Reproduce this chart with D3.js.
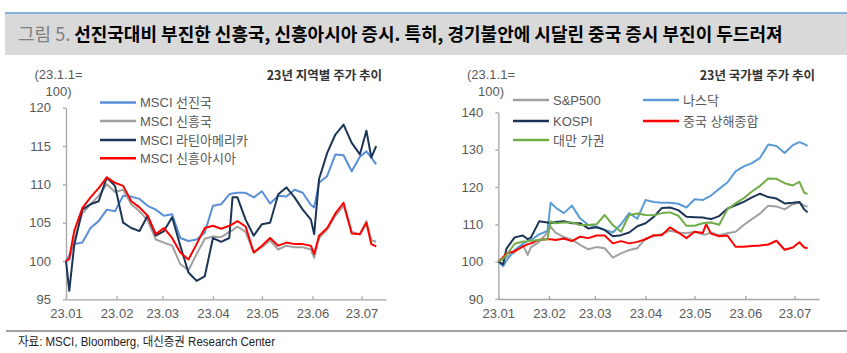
<!DOCTYPE html>
<html>
<head>
<meta charset="utf-8">
<script src="https://cdn.jsdelivr.net/npm/d3@7"></script>
<style>
  body { margin: 0; background: #fff; }
  svg text { font-family: 'Liberation Sans', 'Noto Sans CJK KR', sans-serif; }
</style>
</head>
<body>
<svg></svg>
<script>
// left panel: MSCI regions
const leftDates = ['2023-01-01','2023-01-03','2023-01-06','2023-01-11','2023-01-16','2023-01-21','2023-01-26','2023-01-31',
	'2023-02-05','2023-02-10','2023-02-15','2023-02-20','2023-02-25','2023-03-02','2023-03-07','2023-03-12','2023-03-17',
	'2023-03-22','2023-03-27','2023-04-01','2023-04-06','2023-04-11','2023-04-13','2023-04-16','2023-04-21','2023-04-26',
	'2023-05-01','2023-05-06','2023-05-11','2023-05-16','2023-05-21','2023-05-26','2023-05-31','2023-06-02','2023-06-05',
	'2023-06-10','2023-06-15','2023-06-20','2023-06-25','2023-06-30','2023-07-04','2023-07-07','2023-07-10'];
const msciDeveloped = [100,100.7,102.2,102.4,104.3,105.2,106.7,106.5,108.5,108.4,108.1,107.2,106.7,105.9,106.1,103,102.6,
	102.8,103.7,107.2,107.4,108.7,108.8,108.9,108.9,108.3,109.1,107.5,108.5,108.4,109.3,108.9,107.3,107,110.2,111.1,113.9,
	113.8,111.7,113.6,114.3,113.5,112.6];
const msciEmerging = [100,100.2,102.8,106.2,107.4,108.5,110,109,109.3,107.4,106.5,105.3,102.8,102.4,102,99.6,98.8,100.9,
	102.9,103.2,103.1,103.8,104,104.5,103.8,101.1,101.8,102.7,101.5,102,101.8,101.8,101.5,100.4,103,104.1,105.9,107.2,103.8,
	103.5,105.2,102.7,102.5];
const msciLatam = [100,96.1,102,106.7,107.4,107.8,110.9,109.8,105,104.3,103.9,105.9,103.3,103.9,105.7,102,98.5,97.4,98,103,
	102.5,103,108.3,108.3,105.4,103.3,104.8,105,108.7,109.6,108.3,106.7,105.4,103.5,110.7,114.1,116.5,117.8,115.4,113.9,117,
	113.5,115];
const msciEmAsia = [100,100.3,103.9,106.9,108.3,109.5,110.9,110.2,109.8,107.8,107,105.9,103.5,104.3,103,101.1,100.2,102.2,
	104.3,104.6,104.2,104.6,104.8,105.2,104.5,101.1,102,103,102,102.4,102.2,102.2,102,100.9,103.3,104.3,106.2,107.6,103.6,
	103.5,105,102.2,101.9];
const leftTicks = [95, 100, 105, 110, 115, 120];

// right panel: country indices
const rightDates = ['2023-01-01','2023-01-04','2023-01-06','2023-01-11','2023-01-16','2023-01-19','2023-01-21','2023-01-26',
	'2023-01-31','2023-02-02','2023-02-05','2023-02-10','2023-02-15','2023-02-20','2023-02-25','2023-03-02','2023-03-07',
	'2023-03-12','2023-03-17','2023-03-22','2023-03-27','2023-04-01','2023-04-06','2023-04-11','2023-04-16','2023-04-21',
	'2023-04-26','2023-05-01','2023-05-06','2023-05-08','2023-05-11','2023-05-16','2023-05-21','2023-05-26','2023-05-31',
	'2023-06-05','2023-06-10','2023-06-15','2023-06-20','2023-06-25','2023-06-30','2023-07-04','2023-07-07','2023-07-09'];
const sp500 = [100,100.6,101.3,102.5,104.5,101.8,103.9,105.3,107.8,109.4,107.8,106.6,105.9,104.5,103.3,103.9,103.6,101.1,
	102.2,103.1,103.6,106.2,106.8,107.4,108.3,107.8,107.6,108,107.3,107.3,107.8,107.1,107.6,108,109.8,111.4,112.9,115,114.8,
	114,115.4,115.8,115,114.7];
const nasdaq = [100,98.8,100.3,103.1,104.8,105.5,105.8,107.3,108.2,115.8,114.5,113,115,111.6,109.8,109.4,108.5,107.8,110,113,
	111.5,116.5,116,115.8,115.8,115.5,114.5,116.7,116.5,117,117.7,119.5,121.2,124.2,125.5,126.4,127.8,131.4,131,129.1,131.2,
	132,131.5,131];
const kospi = [100,99.3,103.5,106.5,107,106,106.5,110.8,110.5,110.3,110.6,110.8,110.3,110.3,108.9,109.2,108.5,106.8,107.1,
	107.8,109.5,110.3,112,114.4,114.5,113.8,112,111.9,111.8,111.6,111.4,112.2,114.2,115.1,116,117.2,118.2,117.3,116.9,115.6,
	115.8,116,114,113.2];
const shanghai = [100,101.2,102.2,102.8,104,104.7,104.9,105.9,106,106,105.8,106.2,105.5,106.7,106.3,107,107,104.9,105.5,
	104.9,105.3,106,107.1,107.1,109.2,107.8,106.3,108,107.7,110,107.5,106.8,107,104,104,104.2,104.3,104.6,105.6,103.2,103.8,
	105.2,103.8,103.6];
const taiwan = [100,100.8,101.8,104.8,105.4,105.5,105.6,105.8,106,110.8,110.3,110.5,110.5,109.8,109.8,110,112.5,109.8,108,
	112.5,112.9,112.5,112.4,113,113.2,112.3,109.6,109.6,110.3,110.4,110.5,109.9,114,115.6,117,118.8,120.3,122.3,122.2,121,
	120.4,121.4,118.4,118.2];
const rightTicks = [90, 100, 110, 120, 130, 140];

const monthTicks = ['2023-01-01','2023-02-01','2023-03-01','2023-04-01','2023-05-01','2023-06-01','2023-07-01'];

const svg = d3.select('svg')
	.attr('width', 847)
	.attr('height', 353);

const parse = d3.timeParse('%Y-%m-%d');

// header bar
svg.append('rect')
	.attr('x', 5).attr('y', 13.5)
	.attr('width', 842).attr('height', 41.5)
	.attr('fill', '#d9d9d9');
svg.append('line')
	.attr('x1', 5).attr('x2', 847)
	.attr('y1', 13).attr('y2', 13)
	.attr('stroke', '#5b9bd5')
	.attr('stroke-width', 1.5);

const title = svg.append('text')
	.attr('x', 18).attr('y', 41)
	.style('font-family', "'Noto Sans CJK KR', sans-serif")
	.style('font-size', '18px');
title.append('tspan')
	.attr('fill', '#7f7f7f')
	.text('그림 5. ');
title.append('tspan')
	.attr('fill', '#000')
	.attr('font-weight', 'bold')
	.text('선진국대비 부진한 신흥국, 신흥아시아 증시. 특히, 경기불안에 시달린 중국 증시 부진이 두드러져');

// footer
svg.append('line')
	.attr('x1', 6).attr('x2', 847)
	.attr('y1', 331).attr('y2', 331)
	.attr('stroke', '#808080')
	.attr('stroke-width', 1.5);
svg.append('text')
	.attr('x', 18).attr('y', 346)
	.attr('fill', '#222')
	.attr('textLength', 257)
	.attr('lengthAdjust', 'spacingAndGlyphs')
	.style('font-size', '12.5px')
	.text('자료: MSCI, Bloomberg, 대신증권 Research Center');

const drawPanel = opt => {
	const xScale = d3.scaleTime()
		.domain([parse('2023-01-01'), parse('2023-07-16')])
		.range([opt.left, opt.right]);

	const yScale = d3.scaleLinear()
		.domain(d3.extent(opt.ticks))
		.range([opt.bottom, opt.top]);

	const yAxis = d3.axisLeft(yScale)
		.tickValues(opt.ticks)
		.tickSizeInner(3)
		.tickSizeOuter(0)
		.tickPadding(12);

	const xAxis = d3.axisBottom(xScale)
		.tickValues(monthTicks.map(parse))
		.tickFormat(d3.timeFormat('%y.%m'))
		.tickSizeInner(-3)
		.tickSizeOuter(0)
		.tickPadding(9.5);

	const g = svg.append('g');

	const yAxisG = g.append('g')
		.attr('transform', `translate(${opt.left}, 0)`)
		.call(yAxis);
	const xAxisG = g.append('g')
		.attr('transform', `translate(0, ${opt.bottom})`)
		.call(xAxis);

	[yAxisG, xAxisG].forEach(a => {
		a.selectAll('.domain, line').attr('stroke', '#a6a6a6').attr('stroke-width', 1.3);
		a.selectAll('text')
			.attr('fill', '#595959')
			.style('font-size', '13px');
	});

	// unit label
	g.append('text')
		.attr('x', opt.unitX).attr('y', 79)
		.attr('text-anchor', 'middle')
		.attr('fill', '#595959')
		.style('font-size', '13px')
		.text('(23.1.1=');
	g.append('text')
		.attr('x', opt.unitX).attr('y', 96)
		.attr('text-anchor', 'middle')
		.attr('fill', '#595959')
		.style('font-size', '13px')
		.text('100)');

	g.append('text')
		.attr('x', opt.titleX).attr('y', 80)
		.attr('text-anchor', 'end')
		.attr('fill', '#333')
		.attr('font-weight', 'bold')
		.style('font-size', '12.5px')
		.style('font-family', "'Noto Sans CJK KR', sans-serif")
		.text(opt.title);

	const dates = opt.dates.map(parse);
	const lineGenerator = d3.line()
		.x((d, i) => xScale(dates[i]))
		.y(d => yScale(d));

	opt.series.forEach(s => {
		g.append('path')
			.attr('fill', 'none')
			.attr('stroke', s.color)
			.attr('stroke-width', 2)
			.attr('stroke-linejoin', 'round')
			.attr('d', lineGenerator(s.values));
	});

	// legend
	opt.series.forEach(s => {
		const lg = g.append('g')
			.attr('transform', `translate(${s.lx}, ${s.ly})`);
		lg.append('line')
			.attr('x1', 0).attr('x2', 36)
			.attr('stroke', s.color)
			.attr('stroke-width', 2.5);
		lg.append('text')
			.attr('x', 40).attr('y', 4.5)
			.attr('fill', '#595959')
			.style('font-size', '13px')
			.text(s.name);
	});
};

drawPanel({
	left: 66, right: 386, top: 107.7, bottom: 299.3,
	ticks: leftTicks,
	dates: leftDates,
	unitX: 58.5,
	titleX: 382,
	title: '23년 지역별 주가 추이',
	series: [
		{ name: 'MSCI 선진국', values: msciDeveloped, color: '#5a8fd8', lx: 100, ly: 102.5 },
		{ name: 'MSCI 신흥국', values: msciEmerging, color: '#a0a0a0', lx: 100, ly: 121 },
		{ name: 'MSCI 라틴아메리카', values: msciLatam, color: '#1c3557', lx: 100, ly: 140 },
		{ name: 'MSCI 신흥아시아', values: msciEmAsia, color: '#ff0000', lx: 100, ly: 158.3 }
	]
});

drawPanel({
	left: 498.3, right: 819, top: 112.3, bottom: 299,
	ticks: rightTicks,
	dates: rightDates,
	unitX: 491,
	titleX: 815,
	title: '23년 국가별 주가 추이',
	series: [
		{ name: 'S&P500', values: sp500, color: '#a0a0a0', lx: 513, ly: 100 },
		{ name: '나스닥', values: nasdaq, color: '#5b9bd5', lx: 643, ly: 100 },
		{ name: 'KOSPI', values: kospi, color: '#1c3557', lx: 513, ly: 121 },
		{ name: '중국 상해종합', values: shanghai, color: '#ff0000', lx: 643, ly: 121 },
		{ name: '대만 가권', values: taiwan, color: '#70ad47', lx: 513, ly: 140 }
	]
});
</script>
</body>
</html>
